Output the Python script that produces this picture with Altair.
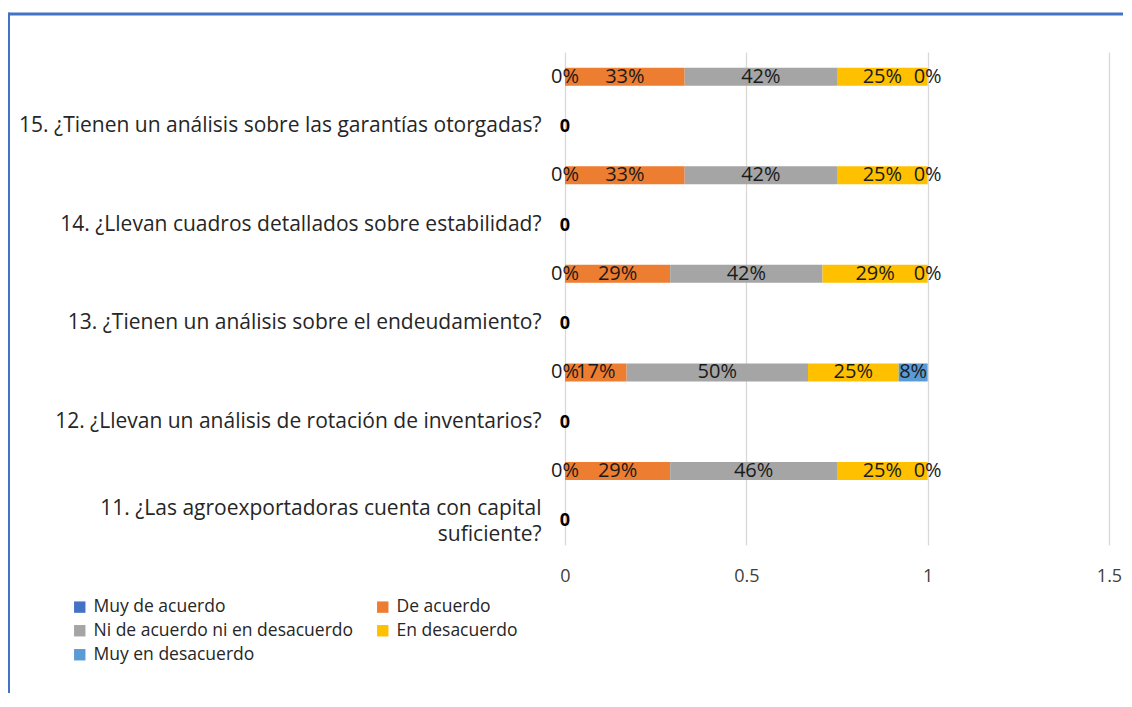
import altair as alt
import pandas as pd

questions = [
    "15. ¿Tienen un análisis sobre las garantías otorgadas?",
    "14. ¿Llevan cuadros detallados sobre estabilidad?",
    "13. ¿Tienen un análisis sobre el endeudamiento?",
    "12. ¿Llevan un análisis de rotación de inventarios?",
    "11. ¿Las agroexportadoras cuenta con capital|suficiente?",
]
categories = ["Muy de acuerdo", "De acuerdo", "Ni de acuerdo ni en desacuerdo",
              "En desacuerdo", "Muy en desacuerdo"]
colors = ["#4472C4", "#ED7D31", "#A5A5A5", "#FFC000", "#5B9BD5"]

muy_de_acuerdo = [0.00, 0.00, 0.00, 0.00, 0.00]
de_acuerdo = [0.33, 0.33, 0.29, 0.17, 0.29]
ni_de_acuerdo = [0.42, 0.42, 0.42, 0.50, 0.46]
en_desacuerdo = [0.25, 0.25, 0.29, 0.25, 0.25]
muy_en_desacuerdo = [0.00, 0.00, 0.00, 0.08, 0.00]
zero_row_values = [0, 0, 0, 0, 0]
x_ticks = [0, 0.5, 1, 1.5]

series = [muy_de_acuerdo, de_acuerdo, ni_de_acuerdo, en_desacuerdo, muy_en_desacuerdo]

rows_order = []
for i, q in enumerate(questions):
    rows_order.append("b" + q[:2])
    rows_order.append(q)

recs = []
for i, q in enumerate(questions):
    for k, (cat, vals) in enumerate(zip(categories, series)):
        recs.append({"row": "b" + q[:2], "cat": cat, "order": k, "value": vals[i]})
bars_df = pd.DataFrame(recs)
zero_df = pd.DataFrame({"row": questions, "value": zero_row_values})
frame_df = pd.DataFrame({"k": [0]})

FONT = "Open Sans"

y_enc = alt.Y("row:N", sort=rows_order,
              scale=alt.Scale(domain=rows_order, paddingInner=0, paddingOuter=0),
              axis=alt.Axis(title=None, domain=False, ticks=False, grid=False,
                            labelAlign="right", labelPadding=24, labelFontSize=21,
                            labelLimit=700, labelColor="#262626", labelFont=FONT,
                            labelLineHeight=26,
                            labelOffset={"condition": {"test": "indexof(datum.value,'|')>=0",
                                                       "value": -11}, "value": 0},
                            labelExpr="slice(datum.value,0,1)=='b' ? '' : split(datum.value,'|')"))

x_enc = alt.X("value:Q", stack="zero",
              scale=alt.Scale(domain=[0, 1.5], nice=False),
              axis=alt.Axis(title=None, values=x_ticks, domain=False, ticks=False,
                            grid=True, gridColor="#D9D9D9", gridWidth=1.3,
                            labelFontSize=18, labelPadding=22, labelColor="#404040",
                            labelFont=FONT, labelFlush=False, format=".1~f"))

bars = alt.Chart(bars_df).mark_bar(size=18).encode(
    x=x_enc,
    y=y_enc,
    color=alt.Color("cat:N", scale=alt.Scale(domain=categories, range=colors),
                    legend=alt.Legend(title=None, orient="none", legendX=-494, legendY=546,
                                      columns=2, direction="horizontal",
                                      symbolType="square", symbolSize=130,
                                      symbolStrokeWidth=0, labelFontSize=17.5,
                                      labelFont=FONT, labelColor="#262626",
                                      labelOffset=5, rowPadding=5, columnPadding=20,
                                      labelLimit=400, padding=0)),
    order=alt.Order("order:Q"),
)

labels = alt.Chart(bars_df).transform_stack(
    stack="value", groupby=["row"], as_=["x0", "x1"],
    sort=[alt.SortField("order", order="ascending")]
).transform_calculate(
    mid="(datum.x0 + datum.x1) / 2"
).mark_text(fontSize=20, font=FONT, color="#1a1a1a", baseline="middle").encode(
    x=alt.X("mid:Q"),
    y=alt.Y("row:N", sort=rows_order),
    text=alt.Text("value:Q", format=".0%"),
)

zeros = alt.Chart(zero_df).mark_text(fontSize=18, font=FONT, fontWeight="bold",
                                     color="#000000", baseline="middle", dy=1).encode(
    x=alt.X("value:Q"),
    y=alt.Y("row:N", sort=rows_order),
    text=alt.Text("value:Q"),
)

top_border = alt.Chart(frame_df).mark_rule(color="#4472C4", strokeWidth=3).encode(
    x=alt.value(-556.5), x2=alt.value(700), y=alt.value(-38))
left_border = alt.Chart(frame_df).mark_rule(color="#4472C4", strokeWidth=3).encode(
    x=alt.value(-556.5), y=alt.value(-39.5), y2=alt.value(800))

chart = alt.layer(bars, labels, zeros, top_border, left_border).properties(
    width=544, height=493,
    autosize=alt.AutoSizeParams(type="none"),
    padding={"left": 557, "top": 44, "right": 14, "bottom": 148},
).configure(background="white").configure_view(strokeWidth=0, stroke="transparent")

chart.save("out.html", embed_options={"renderer": "svg", "actions": False})
